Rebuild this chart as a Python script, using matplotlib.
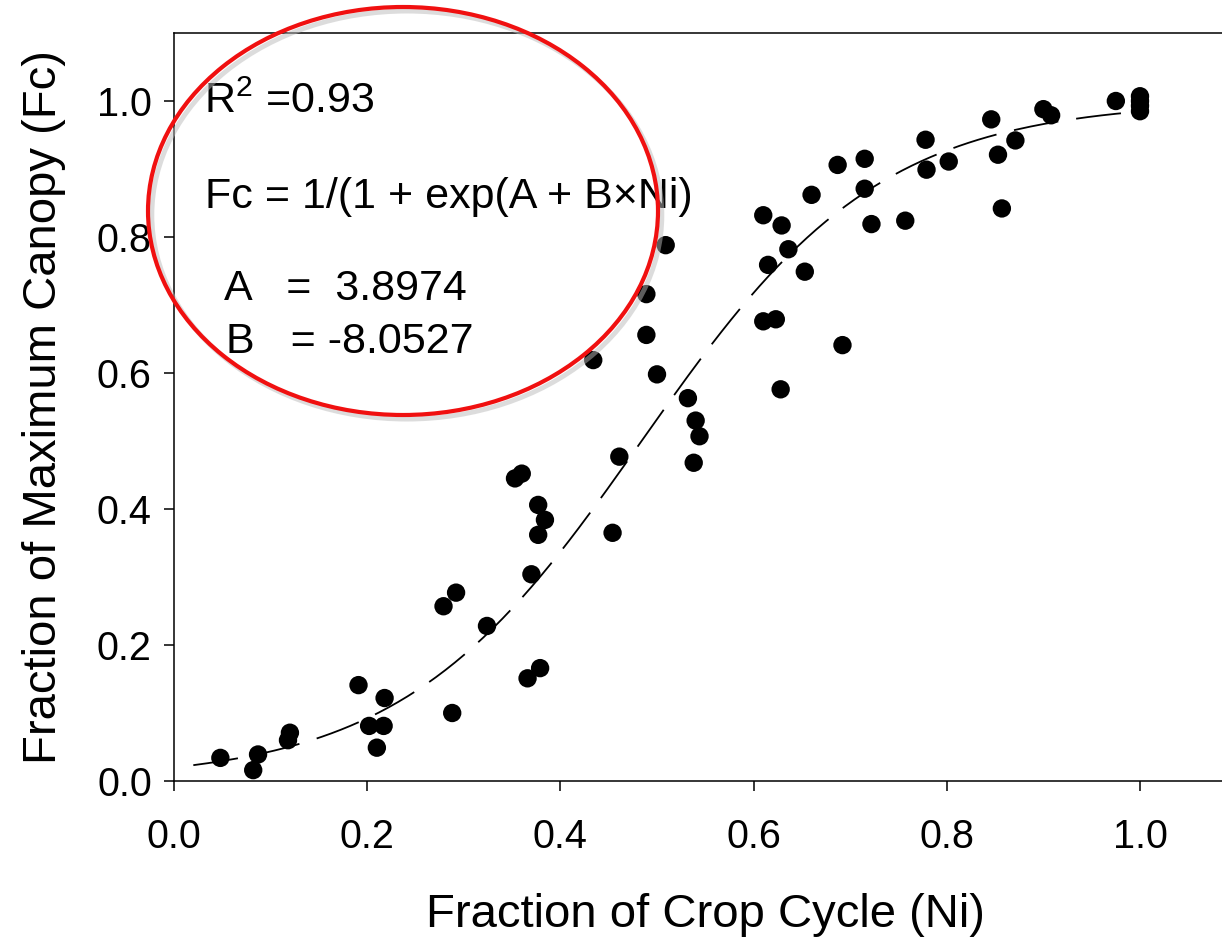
import matplotlib

matplotlib.use("Agg")
import matplotlib.pyplot as plt
import numpy as np
from matplotlib.patches import Ellipse

plt.rcParams["font.family"] = ["Liberation Sans", "DejaVu Sans"]
plt.rcParams.update({"mathtext.fontset": "custom", "mathtext.rm": "Liberation Sans",
                     "mathtext.it": "Liberation Sans", "mathtext.default": "regular"})

# observed points (fraction of crop cycle, fraction of max canopy)
ni = [0.048, 0.082, 0.087, 0.118, 0.120, 0.191, 0.202, 0.210, 0.217, 0.218,
      0.279, 0.288, 0.292, 0.324, 0.353, 0.360, 0.366, 0.370, 0.377, 0.377,
      0.379, 0.384, 0.434, 0.454, 0.461, 0.489, 0.489, 0.500, 0.509, 0.532,
      0.538, 0.540, 0.544, 0.610, 0.610, 0.615, 0.623, 0.628, 0.629, 0.636,
      0.653, 0.660, 0.687, 0.692, 0.715, 0.715, 0.722, 0.757, 0.778, 0.779,
      0.802, 0.846, 0.853, 0.857, 0.871, 0.900, 0.908, 0.975, 1.000, 1.000,
      1.000, 1.000]
fc = [0.034, 0.016, 0.039, 0.060, 0.071, 0.141, 0.081, 0.049, 0.081, 0.122,
      0.257, 0.100, 0.277, 0.228, 0.445, 0.452, 0.151, 0.304, 0.362, 0.406,
      0.166, 0.384, 0.619, 0.365, 0.477, 0.656, 0.716, 0.598, 0.788, 0.563,
      0.468, 0.530, 0.507, 0.832, 0.676, 0.759, 0.679, 0.576, 0.817, 0.782,
      0.749, 0.862, 0.906, 0.641, 0.915, 0.871, 0.819, 0.824, 0.943, 0.899,
      0.911, 0.973, 0.921, 0.842, 0.942, 0.988, 0.979, 1.000, 1.007, 1.000,
      0.993, 0.985]

# logistic fit
A, B = 3.8974, -8.0527
R2 = 0.93

W, H = 1222, 939
fig = plt.figure(figsize=(W / 100, H / 100), dpi=100)
# axes frame runs past the right edge of the picture (cropped, as in the original)
x0, y0, ytop = 174, 781, 33
px_per_x = 966
ax = fig.add_axes([x0 / W, (H - y0) / H, 1.1 * px_per_x / W, (y0 - ytop) / H])

xc = np.linspace(0.02, 1.0, 200)
ax.plot(xc, 1 / (1 + np.exp(A + B * xc)), color="black", lw=1.3,
        dashes=(25, 10), zorder=2)
ax.scatter(ni, fc, s=175, color="black", edgecolor="none", zorder=3, clip_on=False)

ax.set_xlim(0, 1.1)
ax.set_ylim(0, 1.1)
ax.set_xticks(np.arange(0, 1.01, 0.2))
ax.set_yticks(np.arange(0, 1.01, 0.2))
ax.xaxis.set_major_formatter(matplotlib.ticker.FormatStrFormatter("%.1f"))
ax.yaxis.set_major_formatter(matplotlib.ticker.FormatStrFormatter("%.1f"))
ax.tick_params(direction="out", length=7, width=1.1, labelsize=28.5)
ax.tick_params(axis="x", pad=20)
ax.tick_params(axis="y", pad=9)
for s in ax.spines.values():
    s.set_linewidth(1.1)

ax.set_xlabel("Fraction of Crop Cycle (Ni)", fontsize=34, labelpad=26)
ax.set_ylabel("Fraction of Maximum Canopy (Fc)", fontsize=34, labelpad=22)

# annotation text
tk = dict(fontsize=31, ha="left", va="baseline")
ax.text(0.031, 0.982, "R$^{2}$ =%.2f" % R2, **tk)
ax.text(0.032, 0.843, "Fc = 1/(1 + exp(A + B×Ni)", **tk)
ax.text(0.052, 0.707, f"A   =  {A:.4f}", **tk)
ax.text(0.054, 0.629, f"B   = {B:.4f}", **tk)

# red highlight ellipse (with a faint shadow)
ecx, ecy = (403 - x0) / px_per_x, (y0 - 211) / 680
ew, eh = 510 / px_per_x, 408 / 680
ax.add_patch(Ellipse((ecx + 0.004, ecy - 0.006), ew, eh, fill=False,
                     edgecolor="#bbbbbb", lw=3.5, alpha=0.5, clip_on=False, zorder=4))
ax.add_patch(Ellipse((ecx, ecy), ew, eh, fill=False, edgecolor="#f01010",
                     lw=3.0, clip_on=False, zorder=5))

fig.savefig("out.png", dpi=100, facecolor="white")
